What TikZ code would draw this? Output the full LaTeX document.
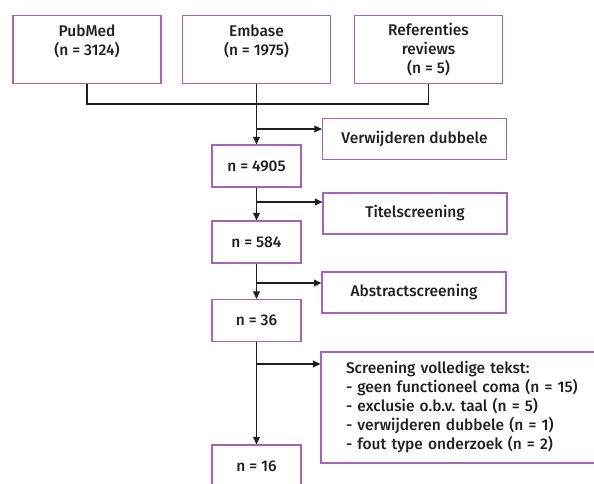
\documentclass[tikz,border=0pt]{standalone}
\usepackage{fontspec}
\setmainfont{Fira Sans}[UprightFont={* Medium}]
\usetikzlibrary{arrows.meta,positioning,calc}
\definecolor{lila}{HTML}{A564B8}
\definecolor{ink}{HTML}{231F20}
\tikzset{bron/.style={draw=lila,line width=1.3pt,align=center,anchor=center,minimum width=148pt,minimum height=68pt,inner sep=0pt},
stap/.style={draw=lila,line width=1.3pt,align=center,minimum width=89pt,minimum height=42pt,inner sep=0pt},
uit/.style={draw=lila,line width=1.3pt,align=center,minimum width=184pt,minimum height=41pt,inner sep=0pt},
lijn/.style={draw=ink,line width=1.1pt},arr/.style={-{Triangle[length=7.5pt,width=7pt]},line width=1.1pt,draw=ink}}
\frenchspacing
\begin{document}
\begin{tikzpicture}[x=1pt,y=-1pt,font=\fontsize{15.5}{19}\selectfont,color=ink]
\clip(0,0)rectangle(594,483);\useasboundingbox(0,0)rectangle(594,483);
\node[bron](pub)at(87,49.5){PubMed\\(n = 3124)\\\mbox{}};\node[bron](emb)at(256.5,49.5){Embase\\(n = 1975)\\\mbox{}};\node[bron](ref)at(428.5,49.5){Referenties\\reviews\\(n = 5)};
\node[stap](n1)at(256.5,166){n = 4905};\node[stap](n2)at(256.5,242){n = 584};\node[stap](n3)at(256.5,320.5){n = 36};\node[stap](n4)at(256.5,466){n = 16};
\node[uit](dub)at(414.5,139){Verwijderen dubbele};\node[uit](tit)at(415,213.5){Titelscreening};\node[uit](abs)at(414,292.5){Abstractscreening};
\node[draw=lila,line width=1.3pt,align=left,minimum width=300pt,minimum height=111pt,inner sep=0pt,text width=250pt](scr)at(471,407.5){Screening volledige tekst:\\- geen functioneel coma (n = 15)\\- exclusie o.b.v. taal (n = 5)\\- verwijderen dubbele (n = 1)\\- fout type onderzoek (n = 2)};
\coordinate(j)at(256.5,104);\coordinate(b1)at(256.5,129);\coordinate(b2)at(256.5,202);\coordinate(b3)at(256.5,283);\coordinate(b4)at(256.5,364);
\draw[lijn](pub.south)|-(j)-|(ref.south);\draw[arr](emb.south)--(n1.north);\draw[arr](b1)--(b1-|dub.west);
\draw[arr](n1.south)--(n2.north);\draw[arr](b2)--(b2-|tit.west);
\draw[arr](n2.south)--(n3.north);\draw[arr](b3)--(b3-|abs.west);
\draw[arr](n3.south)--(n4.north);\draw[arr](b4)--(b4-|scr.west);
\end{tikzpicture}
\end{document}
